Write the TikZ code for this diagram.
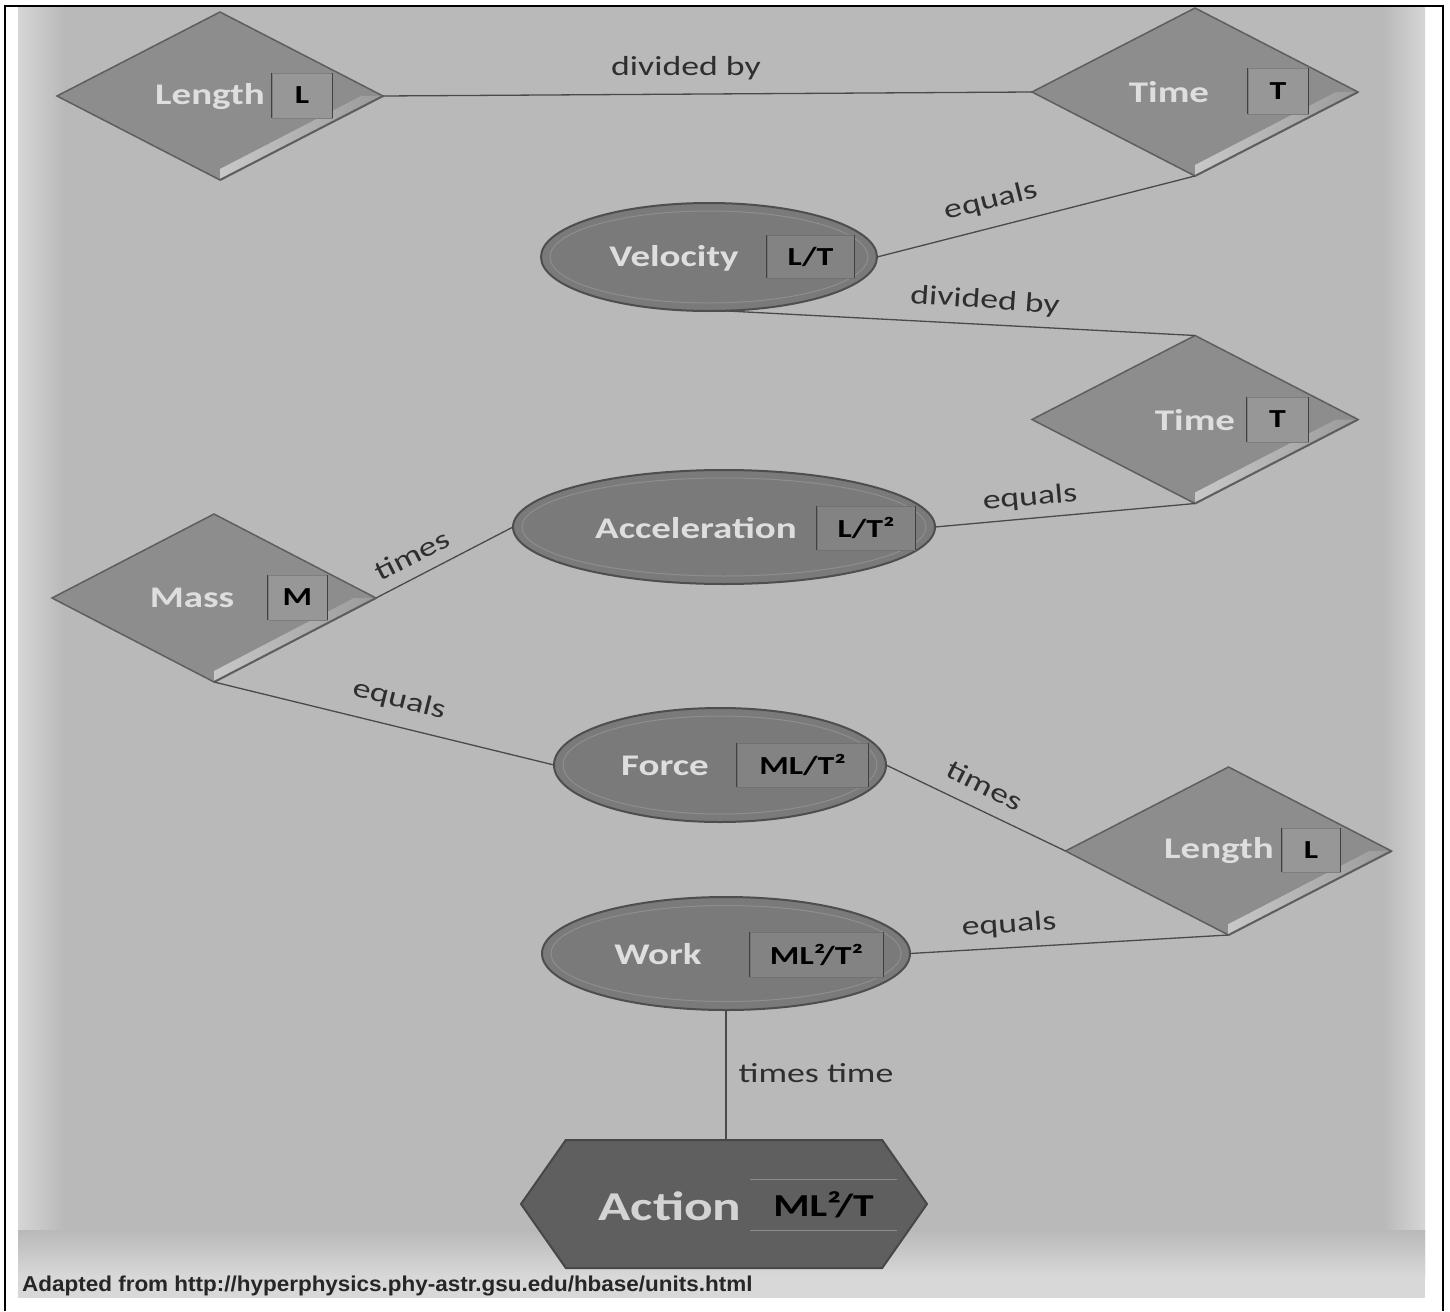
\documentclass[tikz,border=0pt]{standalone}
\usepackage{fontspec}
\newfontfamily\lab{Carlito}[FakeStretch=1.3]
\newfontfamily\capf{Liberation Sans}[FakeStretch=1.045]
\usetikzlibrary{shapes.geometric,shapes.symbols,calc}
\definecolor{bgmid}{HTML}{B9B9B9}
\definecolor{bgedge}{HTML}{D6D6D6}
\definecolor{capbg}{HTML}{D8D8D8}
\definecolor{dfill}{HTML}{8D8D8D}
\definecolor{dedge}{HTML}{5E5E5E}
\definecolor{bevlight}{HTML}{C8C8C8}
\definecolor{bevdark}{HTML}{9A9A9A}
\definecolor{efill}{HTML}{7A7A7A}
\definecolor{eedge}{HTML}{4E4E4E}
\definecolor{ering}{HTML}{8E8E8E}
\definecolor{hfill}{HTML}{5F5F5F}
\definecolor{hedge}{HTML}{474747}
\definecolor{ntext}{HTML}{DEDEDE}
\definecolor{ltext}{HTML}{2E2E2E}
\definecolor{cline}{HTML}{4A4A4A}
\definecolor{dbox}{HTML}{979797}
\definecolor{ebox}{HTML}{838383}
\newcommand\dbevel[1]{%
  \shade[left color=bevlight, right color=bevdark] (#1.east) -- (#1.south) -- ($(#1.south)+(0,-11)$) -- ($(#1.east)+(-22,0)$) -- cycle;
  \draw[dedge, line width=2pt] (#1.east) -- (#1.south);}
\newcommand\boxsides[1]{%
  \draw[boxside] (#1.north west) -- (#1.south west);
  \draw[boxside] (#1.north east) -- (#1.south east);}
\begin{document}
\begin{tikzpicture}[x=1pt,y=-1pt,
  diam/.style={diamond, minimum width=326pt, minimum height=168pt, inner sep=0pt, outer sep=0pt, fill=dfill, draw=dedge, line width=1.5pt},
  ell/.style={ellipse, inner sep=0pt, outer sep=0pt, fill=efill, draw=eedge, line width=2pt},
  nametxt/.style={font=\lab\bfseries\fontsize{30}{32}\selectfont, text=ntext, inner sep=0pt},
  dunit/.style={rectangle, fill=dbox, draw=dedge!80, line width=0.6pt, inner sep=0pt, font=\lab\bfseries\fontsize{26}{28}\selectfont, text=black},
  eunit/.style={rectangle, fill=ebox, draw=eedge!80, line width=0.6pt, inner sep=0pt, font=\lab\bfseries\fontsize{26}{28}\selectfont, text=black},
  boxside/.style={draw=black!75, line width=1.5pt},
  lbl/.style={font=\lab\fontsize{27.5}{30}\selectfont, text=ltext, inner sep=0pt},
  conn/.style={draw=cline, line width=1.3pt}]
\useasboundingbox (0,0) rectangle (1450,1311);
% background
\fill[white] (0,0) rectangle (1450,1311);
\fill[bgmid] (18,6) rectangle (1425,1276);
\shade[left color=bgedge, right color=bgmid] (18,6) rectangle (64,1276);
\shade[left color=bgmid, right color=bgedge] (1383,6) rectangle (1425,1276);
\shade[top color=bgmid, bottom color=capbg] (18,1230) rectangle (1425,1276.5);
\fill[capbg] (18,1276) rectangle (1425,1298);
\draw[black, line width=2pt] (5,1311) -- (5,6.5) -- (1442.7,6.5) -- (1442.7,1311);

% diamonds
\node[diam] (len1) at (220,96) {};
\node[diam] (tim1) at (1195,92) {};
\node[diam] (tim2) at (1195,419.5) {};
\node[diam, minimum width=324pt] (mass) at (214,598) {};
\node[diam] (len2) at (1228.5,851) {};
\dbevel{len1}\dbevel{tim1}\dbevel{tim2}\dbevel{mass}\dbevel{len2}

\node[nametxt] (len1n) at (210,97) {Length};
\node[dunit, minimum width=60pt, minimum height=45pt] (len1u) at (302,95.5) {L};
\node[nametxt] (tim1n) at (1169,92) {Time};
\node[dunit, minimum width=60pt, minimum height=46pt] (tim1u) at (1278,91) {T};
\node[nametxt] (tim2n) at (1195,420) {Time};
\node[dunit, minimum width=61pt, minimum height=45pt] (tim2u) at (1277.5,419.5) {T};
\node[nametxt] (massn) at (192,598) {Mass};
\node[dunit, minimum width=59pt, minimum height=45pt] (massu) at (297.5,597.5) {M};
\node[nametxt] (len2n) at (1219,851) {Length};
\node[dunit, minimum width=58pt, minimum height=44pt] (len2u) at (1311,850) {L};
\boxsides{len1u}\boxsides{tim1u}\boxsides{tim2u}\boxsides{massu}\boxsides{len2u}

% ellipses
\node[ell, minimum width=336pt, minimum height=108pt] (vel) at (709,257) {};
\node[ell, minimum width=422pt, minimum height=114pt] (acc) at (724,527) {};
\node[ell, minimum width=332pt, minimum height=114pt] (force) at (720,765) {};
\node[ell, minimum width=368pt, minimum height=113pt] (work) at (726,953.5) {};
\draw[ering, line width=1pt] (vel.center) ellipse (159 and 46);
\draw[ering, line width=1pt] (acc.center) ellipse (202 and 49);
\draw[ering, line width=1pt] (force.center) ellipse (157 and 49);
\draw[ering, line width=1pt] (work.center) ellipse (175 and 48);

\node[nametxt] (veln) at (674,258) {Velocity};
\node[eunit, minimum width=87pt, minimum height=43pt] (velu) at (810.5,256.5) {L/T};
\node[nametxt] (accn) at (696,528) {Acceleration};
\node[eunit, minimum width=98pt, minimum height=44pt] (accu) at (866,528) {L/T²};
\node[nametxt] (forcen) at (665,766) {Force};
\node[eunit, minimum width=131pt, minimum height=44pt] (forceu) at (802.5,765) {ML/T²};
\node[nametxt] (workn) at (658,954) {Work};
\node[eunit, minimum width=133pt, minimum height=45pt] (worku) at (816.5,954.5) {ML²/T²};
\boxsides{velu}\boxsides{accu}\boxsides{forceu}\boxsides{worku}

% action hexagon
\node[signal, signal to=east and west, signal pointer angle=110, minimum width=406pt, minimum height=128pt, inner sep=0pt, outer sep=0pt, fill=hfill, draw=hedge, line width=2pt] (act) at (724,1204) {};
\node[font=\lab\bfseries\fontsize{41}{44}\selectfont, text=ntext!95!black, inner sep=0pt] (actn) at (670,1206) {Action};
\node[rectangle, minimum width=147pt, minimum height=50pt, inner sep=0pt, font=\lab\bfseries\fontsize{32}{34}\selectfont, text=black] (actu) at (823.5,1205) {ML²/T};
\draw[draw=black!45, line width=1pt] (actu.north west) -- (actu.north east);
\draw[draw=black!45, line width=1pt] (actu.south west) -- (actu.south east);

% connectors
\draw[conn] (len1.east) -- (tim1.west);
\draw[conn] (tim1.south) -- (vel.east);
\draw[conn] (vel.-75) -- (tim2.north);
\draw[conn] (tim2.south) -- (acc.east);
\draw[conn] (mass.east) -- (acc.west);
\draw[conn] (mass.south) -- (force.west);
\draw[conn] (force.east) -- (len2.west);
\draw[conn] (len2.south) -- (work.east);
\draw[conn] (work.south) -- (work.south |- act.north);

% labels
\node[lbl] (l1) at (686,68) {divided by};
\node[lbl, rotate=14] (l2) at (991,201) {equals};
\node[lbl, rotate=-4] (l3) at (985,301) {divided by};
\node[lbl, rotate=5] (l4) at (1030,498) {equals};
\node[lbl, rotate=27] (l5) at (412,555) {times};
\node[lbl, rotate=-14] (l6) at (399,700) {equals};
\node[lbl, rotate=-27] (l7) at (985,785) {times};
\node[lbl, rotate=4] (l8) at (1009,925) {equals};
\node[lbl] (l9) at (816,1073) {times time};

% caption
\node[anchor=west, inner sep=0pt, font=\capf\bfseries\fontsize{21.5}{24}\selectfont, text=black!85] (cap) at (22,1286) {Adapted from http://hyperphysics.phy-astr.gsu.edu/hbase/units.html};
\end{tikzpicture}
\end{document}
